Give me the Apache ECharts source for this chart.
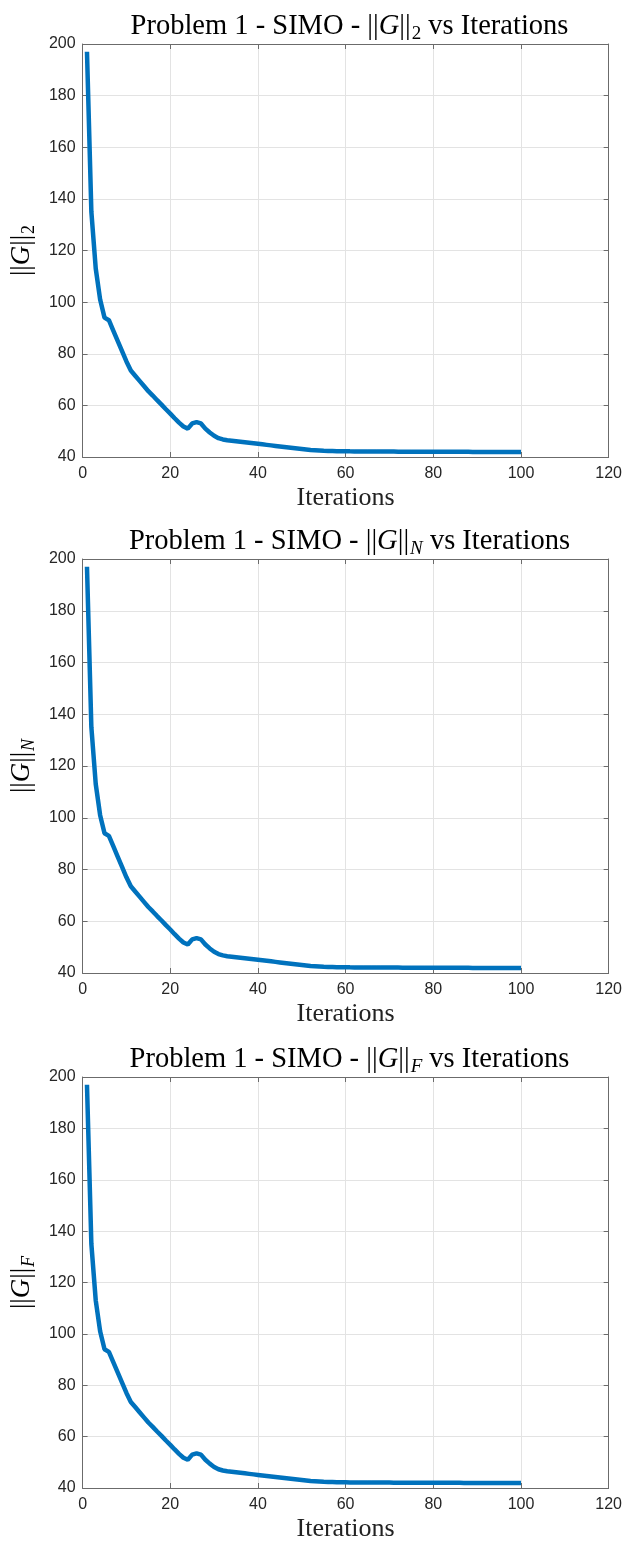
<!DOCTYPE html>
<html>
<head>
<meta charset="utf-8">
<script src="https://cdn.jsdelivr.net/npm/echarts@6/dist/echarts.min.js"></script>
<style>
html,body{margin:0;padding:0;background:#fff;}
#c{width:625px;height:1544px;}
</style>
</head>
<body>
<div id="c"></div>
<script>
// Values (iterations 1..100)
const norm2 = [
  197, 135, 113, 101, 94, 93, 89, 85, 81, 77,
  73.5, 71.5, 69.5, 67.5, 65.5, 63.8, 62, 60.3, 58.5, 56.8,
  55, 53.3, 51.8, 51, 53, 53.5, 53, 51, 49.5, 48.2,
  47.3, 46.8, 46.5, 46.3, 46.1, 45.9, 45.7, 45.5, 45.3, 45.1,
  44.9, 44.7, 44.5, 44.3, 44.1, 43.9, 43.7, 43.5, 43.3, 43.1,
  42.9, 42.7, 42.6, 42.5, 42.4, 42.35, 42.3, 42.25, 42.2, 42.2,
  42.18, 42.17, 42.16, 42.15, 42.14, 42.13, 42.12, 42.11, 42.1, 42.1,
  42.09, 42.08, 42.07, 42.07, 42.06, 42.05, 42.05, 42.04, 42.03, 42.03,
  42.02, 42.02, 42.01, 42.01, 42.0, 42.0, 41.99, 41.99, 41.98, 41.98,
  41.97, 41.97, 41.96, 41.96, 41.95, 41.95, 41.95, 41.94, 41.94, 41.94
];
const normN = norm2.slice();
const normF = norm2.slice();
const subscripts = ['2', 'N', 'F'];
const xTicks = {min: 0, max: 120, interval: 20};
const yTicks = {min: 40, max: 200, interval: 20};

const grids = [
  {left: 80, top: 44, width: 529, height: 413},
  {left: 80, top: 559, width: 529, height: 414},
  {left: 80, top: 1077, width: 529, height: 411}
];
const seriesData = [norm2, normN, normF];

const serif = "'Liberation Serif', 'DejaVu Serif', serif";
const sans = "'Liberation Sans', Arial, sans-serif";
const axisColor = '#6b6b6b';
function richFor(size, subSize) {
  return {
    n: {fontFamily: serif, fontSize: size, fontWeight: 'normal', color: '#000', lineHeight: size + 6},
    g: {fontFamily: serif, fontSize: size, fontWeight: 'normal', fontStyle: 'italic', color: '#000', lineHeight: size + 6},
    s: {fontFamily: serif, fontSize: subSize, fontWeight: 'normal', color: '#000', lineHeight: subSize, verticalAlign: 'bottom', padding: [0, 0, 0, 1]},
    si: {fontFamily: serif, fontSize: subSize, fontWeight: 'normal', fontStyle: 'italic', color: '#000', lineHeight: subSize, verticalAlign: 'bottom', padding: [0, 0, 0, 1]}
  };
}
function subTok(s) { return /[0-9]/.test(s) ? '{s|' + s + '}' : '{si|' + s + '}'; }

const option = {
  backgroundColor: '#fff',
  animation: false,
  title: grids.map((g, i) => ({
    text: '{n|Problem 1 - SIMO - ||}{g|G}{n|||}' + subTok(subscripts[i]) + '{n| vs Iterations}',
    left: g.left + g.width / 2,
    top: g.top - 40,
    textAlign: 'center',
    textStyle: {fontWeight: 'normal', rich: richFor(28.5, 19)}
  })),
  grid: grids,
  xAxis: [],
  yAxis: [],
  series: []
};

grids.forEach((g, i) => {
  const common = {
    gridIndex: i,
    type: 'value',
    axisLine: {show: true, onZero: false, lineStyle: {color: axisColor, width: 1}},
    axisTick: {show: true, inside: true, length: 5, lineStyle: {color: axisColor}},
  };
  option.xAxis.push(Object.assign({}, common, xTicks, {
    position: 'bottom',
    name: 'Iterations',
    nameLocation: 'middle',
    nameGap: 28,
    nameTextStyle: {fontFamily: serif, fontSize: 26, color: '#222'},
    axisLabel: {color: '#262626', fontFamily: sans, fontSize: 16, margin: 9},
    splitLine: {show: true, lineStyle: {color: '#e3e3e3', width: 1}}
  }));
  option.xAxis.push(Object.assign({}, common, xTicks, {
    position: 'top',
    axisLabel: {show: false},
    splitLine: {show: false}
  }));
  option.yAxis.push(Object.assign({}, common, yTicks, {
    position: 'left',
    name: '{n|||}{g|G}{n|||}' + subTok(subscripts[i]),
    nameLocation: 'middle',
    nameGap: 42,
    nameTextStyle: {fontWeight: 'normal', rich: richFor(27, 18)},
    axisLabel: {color: '#262626', fontFamily: sans, fontSize: 16, margin: 7},
    splitLine: {show: true, lineStyle: {color: '#e3e3e3', width: 1}}
  }));
  option.yAxis.push(Object.assign({}, common, yTicks, {
    position: 'right',
    axisLabel: {show: false},
    splitLine: {show: false}
  }));
  option.series.push({
    type: 'line',
    xAxisIndex: i * 2,
    yAxisIndex: i * 2,
    data: seriesData[i].map((v, k) => [k + 1, v]),
    showSymbol: false,
    symbol: 'none',
    smooth: false,
    lineStyle: {color: '#0072BD', width: 4.5},
    z: 3
  });
});

const chart = echarts.init(document.getElementById('c'), null, {renderer: 'canvas'});
chart.setOption(option);
</script>
</body>
</html>
